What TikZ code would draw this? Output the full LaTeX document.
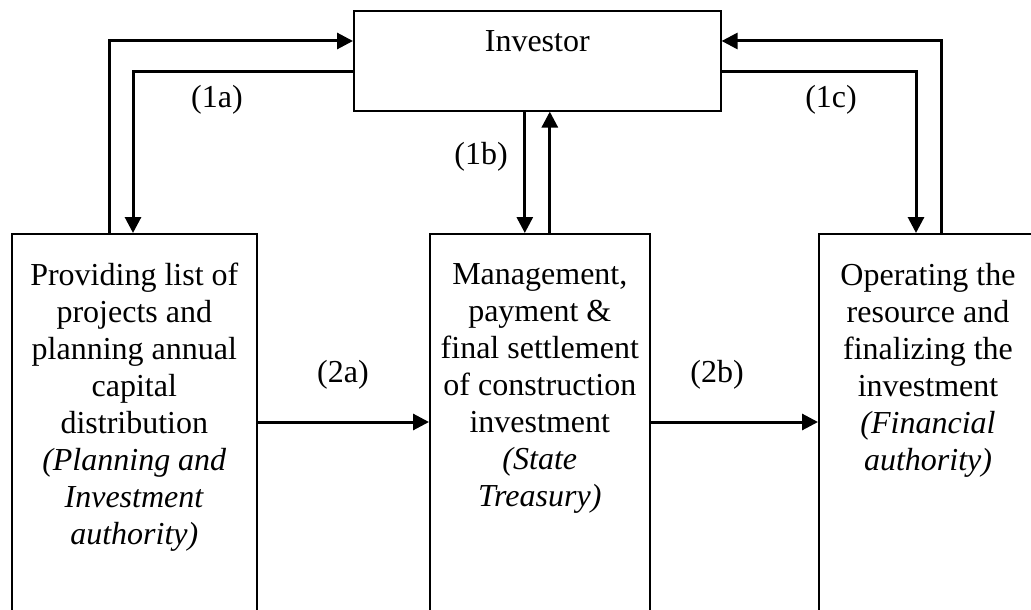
\documentclass[tikz,border=0pt]{standalone}
\usepackage{fontspec}
\setmainfont{Liberation Serif}
\usetikzlibrary{arrows.meta, positioning, calc}

\begin{document}
\begin{tikzpicture}[x=0.5pt, y=-0.5pt,
    every node/.style={font=\fontsize{16pt}{18.5pt}\selectfont},
    stage/.style={draw, line width=0.8pt, rectangle, anchor=north west, minimum height=210pt, inner sep=0pt},
    stagetext/.style={align=center, anchor=north, inner sep=0pt},
    flow/.style={line width=1.5pt, -{Triangle[length=8pt, width=8pt]}},
    steplabel/.style={inner sep=0pt}]
  \useasboundingbox (0,0) rectangle (1031,609);
  \clip (0,0) rectangle (1031,609);

  % investor on top
  \node[draw, line width=0.8pt, anchor=north west, minimum width=183.5pt, text height=20.5pt, text depth=29.5pt, inner sep=0pt] (inv) at (353,10) {Investor};

  % the three stages, open at the bottom
  \node[stage, minimum width=122.5pt] (plan) at (11,233) {};
  \node[stage, minimum width=110pt] (treas) at (429,233) {};
  \node[stage, minimum width=125pt] (fin) at (818,233) {};

  \node[stagetext] (plantext) at ($(plan.north)+(0,30)$) {Providing list of\\projects and\\planning annual\\capital\\distribution\\\textit{(Planning and}\\\textit{Investment}\\\textit{authority)}};
  \node[stagetext] (treastext) at ($(treas.north)+(0,30)$) {Management,\\payment \&\\final settlement\\of construction\\investment\\\textit{(State}\\\textit{Treasury)}};
  \node[stagetext] (fintext) at ($(fin.north west)+(110,30)$) {Operating the\\resource and\\finalizing the\\investment\\\textit{(Financial}\\\textit{authority)}};

  % (1a)
  \draw[flow] ($(plan.north west)+(98,0)$) |- ($(inv.north west)+(0,31)$);
  \draw[flow] ($(inv.north west)+(0,62)$) -| ($(plan.north west)+(122,0)$);
  % (1b)
  \coordinate (tdown) at ($(treas.north)+(-15,0)$);
  \coordinate (tup) at ($(treas.north)+(10,0)$);
  \draw[flow] (inv.south -| tdown) -- (tdown);
  \draw[flow] (tup) -- (inv.south -| tup);
  % (1c)
  \draw[flow] ($(inv.north east)+(0,62)$) -| ($(fin.north west)+(98,0)$);
  \draw[flow] ($(fin.north west)+(123,0)$) |- ($(inv.north east)+(0,31)$);
  % (2a), (2b)
  \draw[flow] ($(plan.north east)+(0,189)$) -- ($(treas.north west)+(0,189)$);
  \draw[flow] ($(treas.north east)+(0,189)$) -- ($(fin.north west)+(0,189)$);

  \node[steplabel] (l1a) at (217,100) {(1a)};
  \node[steplabel] (l1b) at (481,157) {(1b)};
  \node[steplabel] (l1c) at (831,100) {(1c)};
  \node[steplabel] (l2a) at (343,375) {(2a)};
  \node[steplabel] (l2b) at (717,375) {(2b)};
\end{tikzpicture}
\end{document}
